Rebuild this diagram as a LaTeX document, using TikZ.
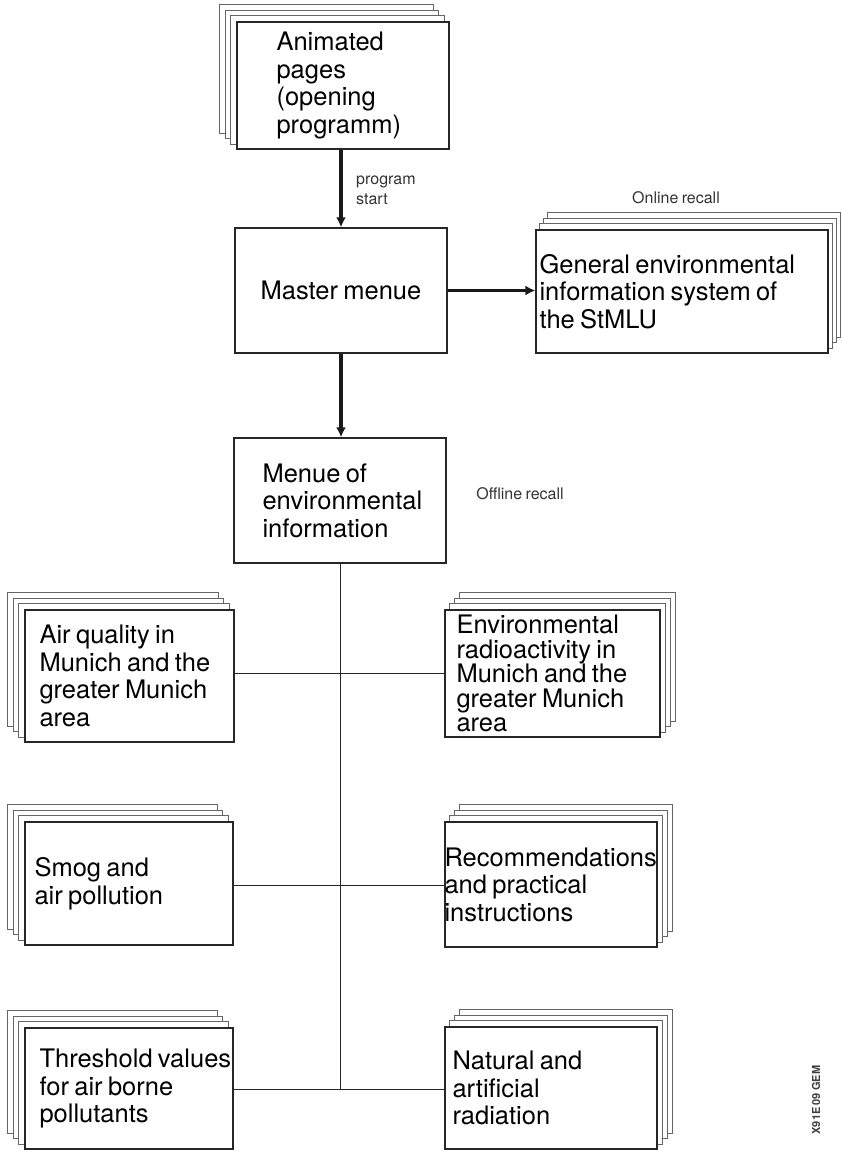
\documentclass[tikz,border=0pt]{standalone}
\usepackage{fontspec}
\setmainfont{TeX Gyre Heros}[WordSpace=0.75]
\usetikzlibrary{arrows.meta,backgrounds}

% three sheets peeking out behind a card, shifted by (#2,#3) per sheet
\newcommand\pilebehind[3]{%
  \begin{scope}[on background layer]
    \foreach \k in {3,2,1}{%
      \draw[sheet] ([shift={(#2*\k,#3*\k)}]#1.south west)
        rectangle ([shift={(#2*\k,#3*\k)}]#1.north east);}
  \end{scope}}

\begin{document}
\begin{tikzpicture}[x=1pt,y=-1pt,
  card/.style={draw=black!85,line width=1.3pt,fill=white,inner sep=0pt},
  sheet/.style={draw=black!60,line width=1pt,fill=white},
  cardtext/.style={font=\fontsize{25.5}{27.5}\selectfont,align=left,inner sep=0pt,anchor=west},
  smallnote/.style={font=\fontsize{16}{20}\selectfont,align=left,inner sep=0pt,text=black!80},
  flow/.style={line width=3.6pt,draw=black!90,-{Latex[length=10pt,width=10pt]}},
  link/.style={line width=1pt,draw=black!85}]

\useasboundingbox (0,0) rectangle (841,1151);

% --- top of the hierarchy ---
\node[card,minimum width=212pt,minimum height=127pt] (anim) at (343,85.5) {};
\node[cardtext] (anim-t) at ([xshift=40pt]anim.west) {Animated\\pages\\(opening\\programm)};
\pilebehind{anim}{-5.5}{-5.5}

\node[card,minimum width=212pt,minimum height=125pt] (master) at (341,290.5) {};
\node[cardtext,anchor=center] (master-t) at (master.center) {Master menue};

\node[card,minimum width=292pt,minimum height=123pt] (general) at (682,291.5) {};
\node[cardtext] (general-t) at ([xshift=4pt]general.west) {General environmental\\information system of\\the StMLU};
\pilebehind{general}{4}{-5.5}

\node[card,minimum width=212pt,minimum height=125pt] (menue) at (340,500.5) {};
\node[cardtext] (menue-t) at ([xshift=29pt]menue.west) {Menue of\\environmental\\information};

% --- topic cards ---
\node[card,minimum width=209pt,minimum height=132pt] (air) at (129.5,676) {};
\node[cardtext] (air-t) at ([xshift=15pt]air.west) {Air quality in\\Munich and the\\greater Munich\\area};
\pilebehind{air}{-5.5}{-5.5}

\node[card,minimum width=215pt,minimum height=127pt] (radio) at (552.5,673.5) {};
\node[cardtext,font=\fontsize{25.5}{24.5}\selectfont] (radio-t) at ([xshift=12pt]radio.west) {Environmental\\radioactivity in\\Munich and the\\greater Munich\\area};
\pilebehind{radio}{5}{-5.5}

\node[card,minimum width=208pt,minimum height=123pt] (smog) at (129,883.5) {};
\node[cardtext] (smog-t) at ([xshift=10pt]smog.west) {Smog and\\air pollution};
\pilebehind{smog}{-5.5}{-5.5}

\node[card,minimum width=212pt,minimum height=125pt] (recom) at (551,884.5) {};
\node[cardtext] (recom-t) at ([xshift=0pt]recom.west) {Recommendations\\and practical\\instructions};
\pilebehind{recom}{5}{-5.5}

\node[card,minimum width=208pt,minimum height=121pt] (thresh) at (129,1088.5) {};
\node[cardtext] (thresh-t) at ([xshift=15pt]thresh.west) {Threshold values\\for air borne\\pollutants};
\pilebehind{thresh}{-5.5}{-5.5}

\node[card,minimum width=212pt,minimum height=122pt] (natural) at (551,1088) {};
\node[cardtext] (natural-t) at ([xshift=8pt]natural.west) {Natural and\\artificial\\radiation};
\pilebehind{natural}{5}{-5.5}

% --- arrows and notes ---
\draw[flow] (master.north |- anim.south) -- (master.north);
\node[smallnote,anchor=west] (start) at (356,190) {program\\start};
\draw[flow] (master.east) -- (master.east -| general.west);
\node[smallnote] (online) at (676,198) {Online recall};
\draw[flow] (master.south) -- (master.south |- menue.north);
\node[smallnote] (offline) at (520,494) {Offline recall};

% --- trunk and branches ---
\path (menue.south) ++(0,110) coordinate (j1)
      (menue.south) ++(0,322) coordinate (j2)
      (menue.south) ++(0,526) coordinate (j3);
\draw[link] (menue.south) -- (j3);
\draw[link] (j1 -| air.east) -- (j1 -| radio.west);
\draw[link] (j2 -| smog.east) -- (j2 -| recom.west);
\draw[link] (j3 -| thresh.east) -- (j3 -| natural.west);

% figure code along the right margin
\node[font=\fontsize{11}{13}\selectfont\bfseries,text=black!75,rotate=90,inner sep=0pt] (code) at (816,1100) {X91E 09 GEM};
\end{tikzpicture}
\end{document}
